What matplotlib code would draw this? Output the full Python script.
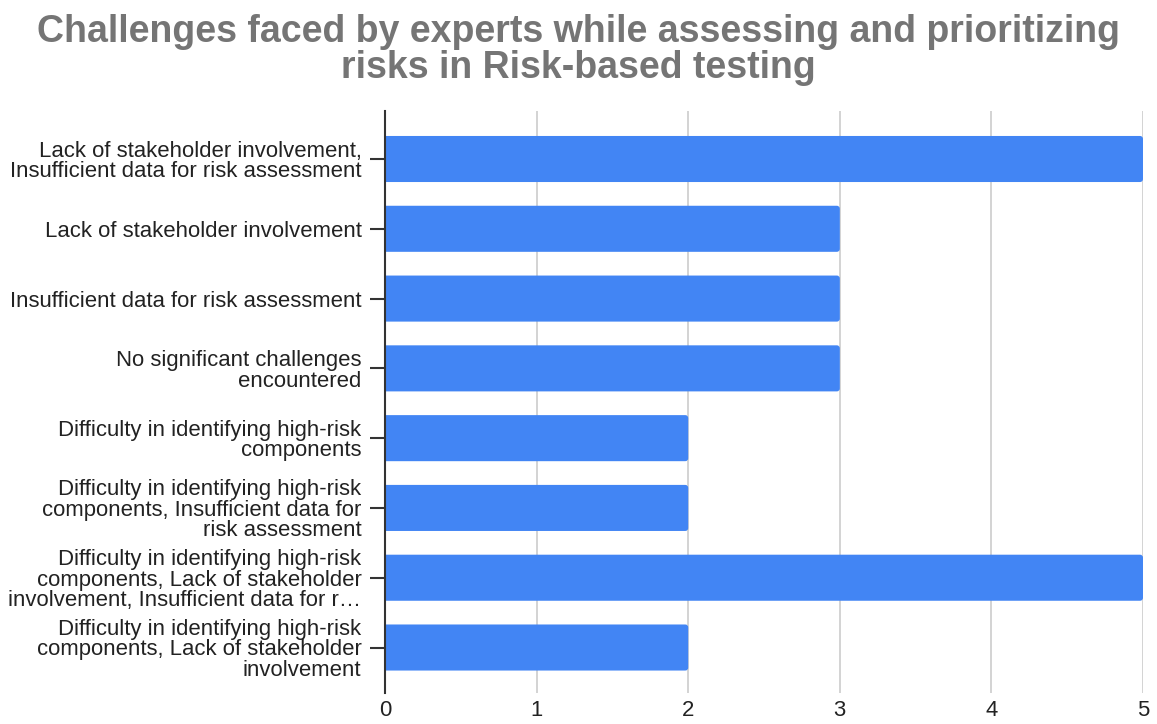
import matplotlib
matplotlib.use("Agg")
import matplotlib.pyplot as plt
from matplotlib.patches import FancyBboxPatch

categories = [
    "Lack of stakeholder involvement,\nInsufficient data for risk assessment",
    "Lack of stakeholder involvement",
    "Insufficient data for risk assessment",
    "No significant challenges\nencountered",
    "Difficulty in identifying high-risk\ncomponents",
    "Difficulty in identifying high-risk\ncomponents, Insufficient data for\nrisk assessment",
    "Difficulty in identifying high-risk\ncomponents, Lack of stakeholder\ninvolvement, Insufficient data for r\u2026",
    "Difficulty in identifying high-risk\ncomponents, Lack of stakeholder\ninvolvement",
]
counts = [5, 3, 3, 3, 2, 2, 5, 2]
x_ticks = [0, 1, 2, 3, 4, 5]

plt.rcParams["font.family"] = ["Liberation Sans", "DejaVu Sans"]

fig = plt.figure(figsize=(11.57, 7.24), dpi=100)
ax = fig.add_axes([0.3328, 0.0428, 0.6551, 0.8039])

bar_color = "#4285F4"
bar_h = 0.66
positions = list(range(len(categories)))

ax.set_xlim(0, 5)
ax.set_ylim(7.652, -0.688)

# pixel size of one data unit, used to keep the corner rounding circular
fig.canvas.draw()
bbox = ax.get_window_extent()
px_per_x = bbox.width / 5.0
px_per_y = bbox.height / (7.652 + 0.688)
r = 3.0 / px_per_x

# each bar starts a little left of zero so its left corners are clipped by
# the axes, leaving only the right-hand corners rounded
for pos, val in zip(positions, counts):
    patch = FancyBboxPatch(
        (-2 * r, pos - bar_h / 2), val + 2 * r, bar_h,
        boxstyle=f"round,pad=0,rounding_size={r}",
        mutation_aspect=px_per_x / px_per_y,
        facecolor=bar_color, edgecolor="none", zorder=3)
    ax.add_patch(patch)

ax.set_xticks(x_ticks)
ax.set_xticklabels([str(t) for t in x_ticks])
ax.set_yticks(positions)
ax.set_yticklabels(categories, linespacing=0.98)

ax.grid(axis="x", color="#cccccc", linewidth=1.2, zorder=0)
for side in ["top", "right", "bottom"]:
    ax.spines[side].set_visible(False)
ax.spines["left"].set_color("#333333")
ax.spines["left"].set_linewidth(1.5)
ax.spines["left"].set_zorder(4)

ax.tick_params(axis="y", direction="inout", length=22, width=1.5, color="#333333",
               labelsize=15.9, labelcolor="#222222", pad=6)
ax.tick_params(axis="x", length=0, labelsize=15.9, labelcolor="#222222", pad=5)

fig.text(0.5, 0.931, "Challenges faced by experts while assessing and prioritizing\nrisks in Risk-based testing",
         ha="center", va="center", fontsize=27, fontweight="bold", color="#757575",
         linespacing=1.0)

fig.savefig("out.png", dpi=100)
